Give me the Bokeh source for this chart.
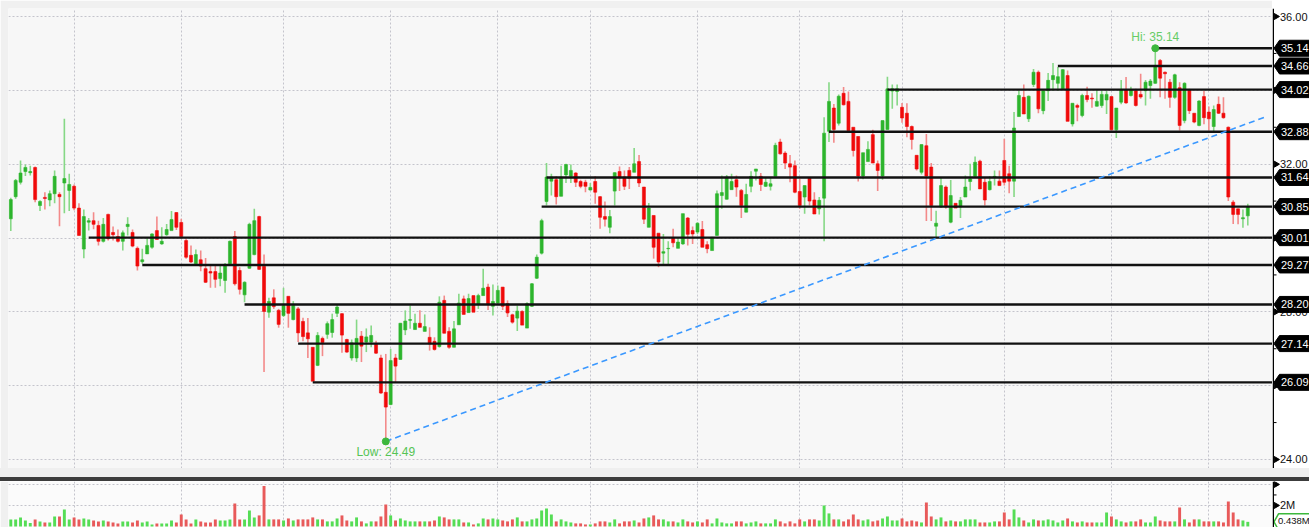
import math
from bokeh.plotting import figure
from bokeh.models import ColumnDataSource, Range1d, FixedTicker, Div, Span
from bokeh.layouts import column, row
from bokeh.embed import file_html
from bokeh.resources import INLINE
from bokeh.core.properties import value

# ---------------- data ----------------
opens = [
    30.52, 31.12, 31.51, 31.80, 31.77, 31.91, 30.88, 31.10, 31.03, 31.20,
    31.18, 31.49, 31.29, 31.40, 30.81, 29.70, 30.43, 30.47, 30.34, 29.91,
    30.64, 30.15, 30.04, 29.91, 30.31, 30.15, 29.72, 29.36, 29.57, 29.75,
    30.20, 29.84, 30.09, 30.20, 30.69, 30.42, 29.93, 29.53, 29.30,
    29.41, 29.17, 29.09, 29.09, 28.90, 28.85, 29.30, 30.04, 29.12, 28.46, 29.18,
    29.55, 30.58, 29.23, 27.99, 28.38, 28.04, 27.90, 28.42, 27.79, 28.08,
    27.74, 27.43, 27.04, 26.55, 27.28, 27.39, 27.44, 27.96, 27.95, 27.25,
    26.75, 26.75, 27.34, 27.18, 27.18, 27.12, 26.75, 25.82, 25.49, 26.75,
    26.71, 27.51,
    27.77, 27.52, 27.69, 27.47, 27.31, 27.20, 27.06, 28.31,
    27.47, 27.04, 27.65, 28.35, 27.98, 28.44, 28.20, 28.44, 28.67, 28.15,
    28.24, 28.67, 28.22, 27.92, 27.83, 28.01, 27.56, 28.15, 28.91, 29.59,
    30.99, 31.54, 31.58, 31.13, 31.71, 31.67, 31.76, 31.53, 31.51, 31.30, 31.53,
    31.12, 30.58, 30.29, 31.27, 31.80, 31.65, 31.83, 31.78, 32.07, 31.38,
    30.29, 30.61, 30.13, 29.59, 29.71, 29.99, 29.72, 29.84, 30.54, 30.20,
    30.16, 30.23, 29.82, 29.66, 30.07, 31.15, 31.05, 31.31, 31.58, 31.29,
    30.70, 31.40, 31.81, 31.67, 31.40, 31.40, 31.67, 32.60, 32.30, 32.01,
    31.96, 31.26, 31.11,
    31.62, 31.03, 30.79, 31.08, 32.89, 33.52, 33.11, 33.92, 33.70, 33.00,
    32.75, 31.68, 32.07, 32.80, 32.01, 31.68, 32.94, 33.98, 33.97, 33.54,
    33.38, 33.02, 32.24, 31.78, 32.50, 31.92, 30.32, 30.84, 31.38, 30.43,
    30.94, 30.84, 31.11, 31.53, 31.67, 32.08, 31.51, 31.31, 31.65, 31.54,
    32.10, 31.74, 31.54,
    33.29, 33.81, 33.23, 34.16, 34.49, 33.45, 33.99, 34.29, 34.19, 34.04,
    34.40, 33.09, 33.59, 33.32, 33.86, 33.79, 33.57, 33.59, 33.74, 33.83,
    32.93, 33.68, 34.01, 33.86, 33.99, 33.89, 33.99, 34.13, 34.19, 34.81,
    34.49, 34.22, 33.81, 34.07, 33.18, 34.01, 33.38, 33.05, 33.83, 33.41,
    33.02, 33.62, 33.38, 33.00, 30.97, 30.79, 30.52, 30.60,
]
highs = [
    31.09, 31.60, 32.10, 31.99, 31.96, 31.94, 31.02, 31.24, 31.29, 31.83,
    31.24, 33.23, 31.74, 31.45, 30.94, 30.77, 30.54, 30.70, 30.47, 30.54,
    30.66, 30.31, 30.23, 30.20, 30.56, 30.23, 29.77, 29.71, 30.02, 30.13,
    30.58, 30.29, 30.38, 30.73, 30.70, 30.52, 29.98, 29.80, 29.69,
    29.66, 29.46, 29.24, 29.24, 29.26, 29.32, 29.93, 30.19, 29.21, 28.83, 30.41,
    30.79, 30.60, 29.55, 28.38, 28.61, 28.08, 28.65, 28.42, 28.29, 28.13,
    27.84, 27.83, 27.04, 27.45, 27.33, 27.74, 27.95, 28.20, 27.96, 27.27,
    27.25, 27.79, 27.48, 27.55, 27.63, 27.22, 26.84, 26.86, 27.00, 26.86,
    27.70, 28.04,
    28.17, 27.95, 28.04, 27.93, 27.58, 27.31, 28.42, 28.44,
    27.58, 27.75, 28.49, 28.44, 28.49, 28.44, 28.49, 29.17, 28.76, 28.74,
    28.71, 28.67, 28.31, 27.95, 28.17, 28.04, 28.26, 28.78, 29.55, 30.52,
    32.03, 31.74, 31.67, 31.96, 32.01, 31.99, 31.78, 31.58, 31.58, 31.49, 31.67,
    31.14, 30.99, 30.76, 31.78, 31.94, 31.83, 31.92, 32.44, 32.25, 31.38,
    30.95, 30.61, 30.13, 30.11, 29.91, 30.25, 30.02, 30.66, 30.57, 30.31,
    30.43, 30.46, 29.91, 30.02, 31.29, 31.69, 31.71, 31.74, 31.69, 31.33,
    31.47, 31.81, 31.87, 31.76, 31.65, 31.65, 32.58, 32.69, 32.35, 32.25,
    32.10, 31.60, 31.42,
    31.65, 31.24, 31.11, 33.27, 34.22, 33.63, 33.89, 34.09, 33.97, 33.00,
    32.75, 32.31, 32.62, 32.93, 32.10, 33.18, 34.37, 34.16, 34.16, 33.66,
    33.65, 33.05, 32.24, 32.53, 32.82, 32.03, 30.74, 31.65, 31.42, 31.57,
    30.94, 31.11, 31.69, 32.01, 32.21, 32.12, 31.65, 31.67, 31.83, 31.83,
    32.69, 31.96, 33.41,
    34.01, 34.16, 33.86, 34.58, 34.54, 34.01, 34.47, 34.74, 34.63, 34.58,
    34.54, 33.65, 33.64, 33.91, 34.10, 33.92, 34.01, 33.99, 33.99, 33.83,
    33.52, 34.28, 34.36, 34.10, 34.04, 34.45, 34.28, 34.31, 35.14, 34.85,
    34.51, 34.31, 34.45, 34.22, 34.22, 34.04, 33.38, 33.73, 33.99, 33.56,
    33.59, 33.83, 33.81, 33.02, 31.02, 30.79, 30.77, 30.93,
]
lows = [
    30.19, 31.06, 31.45, 31.68, 31.69, 30.97, 30.73, 30.77, 30.86, 30.94,
    30.32, 30.67, 30.73, 30.75, 30.07, 29.45, 30.20, 30.24, 29.80, 29.88,
    29.93, 29.93, 29.88, 29.66, 30.07, 29.75, 29.12, 29.30, 29.57, 29.71,
    29.96, 29.82, 30.06, 30.20, 30.22, 29.98, 29.44, 29.32, 29.26,
    29.10, 28.78, 28.65, 28.65, 28.69, 28.52, 29.28, 28.71, 28.47, 28.26, 29.17,
    29.53, 29.13, 26.37, 27.84, 28.08, 27.57, 27.86, 27.57, 27.77, 27.18,
    27.20, 26.75, 26.15, 26.53, 26.80, 27.27, 27.30, 27.86, 26.89, 26.89,
    26.68, 26.64, 26.64, 26.91, 27.04, 26.86, 25.78, 24.49, 25.47, 26.09,
    26.70, 27.37,
    27.54, 27.52, 27.58, 27.47, 26.95, 26.95, 27.03, 27.42,
    27.00, 27.04, 27.65, 27.93, 27.98, 27.99, 28.08, 28.44, 28.05, 27.90,
    28.22, 28.05, 27.86, 27.68, 27.48, 27.64, 27.56, 28.13, 28.89, 29.55,
    30.88, 31.15, 30.91, 31.13, 31.49, 31.49, 31.38, 31.35, 31.24, 31.29, 30.93,
    30.25, 30.31, 30.13, 30.88, 31.27, 31.30, 31.33, 31.78, 31.38, 30.38,
    30.29, 29.44, 29.21, 29.28, 29.28, 29.75, 29.72, 29.82, 29.80, 29.84,
    30.11, 29.75, 29.59, 29.66, 30.07, 30.79, 31.04, 31.31, 31.12, 30.54,
    30.70, 31.24, 31.56, 31.27, 31.38, 31.29, 31.67, 32.26, 31.87, 31.51,
    31.21, 30.79, 30.66,
    30.88, 30.65, 30.64, 29.91, 32.60, 32.58, 33.05, 33.59, 32.91, 32.21,
    31.53, 31.59, 32.07, 32.03, 31.27, 31.58, 32.94, 33.50, 33.59, 33.12,
    32.73, 32.40, 31.83, 31.72, 30.46, 30.46, 30.02, 30.82, 30.79, 30.40,
    30.81, 30.54, 31.11, 31.29, 31.63, 31.33, 30.88, 31.29, 31.42, 31.42,
    31.42, 31.21, 31.11,
    33.29, 33.36, 33.14, 34.09, 33.38, 33.35, 33.71, 33.99, 33.98, 34.04,
    33.16, 33.02, 33.16, 33.27, 33.68, 33.53, 33.56, 33.53, 33.36, 32.91,
    32.71, 33.62, 33.64, 33.83, 33.56, 33.77, 33.59, 33.77, 34.18, 33.81,
    33.77, 33.53, 33.77, 32.91, 33.11, 33.36, 33.11, 33.03, 33.08, 32.91,
    32.87, 33.36, 33.23, 31.00, 30.38, 30.37, 30.28, 30.34,
]
closes = [
    31.04, 31.56, 31.76, 31.91, 31.80, 31.04, 30.99, 31.07, 31.20, 31.67,
    31.12, 31.61, 31.45, 30.81, 30.07, 30.58, 30.47, 30.37, 29.91, 30.37,
    29.98, 30.09, 29.91, 30.14, 30.37, 29.78, 29.24, 29.41, 29.80, 30.11,
    29.96, 29.91, 30.23, 30.50, 30.29, 30.04, 29.48, 29.35, 29.55,
    29.24, 28.80, 29.05, 28.88, 29.05, 29.28, 29.91, 28.76, 28.61, 28.80, 30.37,
    30.47, 29.15, 28.01, 28.28, 28.14, 27.66, 28.17, 27.96, 28.17, 27.43,
    27.33, 27.27, 26.12, 27.36, 27.17, 27.68, 27.79, 28.13, 27.37, 26.91,
    27.16, 27.28, 27.07, 27.32, 27.36, 26.88, 25.80, 25.42, 26.68, 26.53,
    27.69, 27.75,
    27.79, 27.69, 27.58, 27.60, 27.13, 26.98, 28.26, 27.42,
    27.04, 27.54, 28.24, 27.93, 28.36, 27.99, 28.44, 28.64, 28.22, 28.28,
    28.58, 28.15, 27.97, 27.72, 28.02, 27.64, 28.22, 28.76, 29.48, 30.47,
    31.65, 31.65, 31.12, 31.65, 31.99, 31.83, 31.51, 31.40, 31.40, 31.37, 31.24,
    30.56, 30.51, 30.58, 31.77, 31.63, 31.40, 31.62, 32.01, 31.49, 30.51,
    30.81, 29.75, 29.35, 29.63, 29.72, 29.87, 29.89, 30.66, 30.10, 30.11,
    30.40, 29.75, 29.71, 30.02, 31.20, 31.23, 31.65, 31.53, 31.38, 30.88,
    31.18, 31.67, 31.87, 31.45, 31.51, 31.47, 32.51, 32.28, 32.03, 31.92,
    31.24, 30.88, 31.42,
    31.00, 30.65, 31.02, 32.84, 33.70, 32.94, 33.84, 33.61, 32.91, 32.37,
    31.68, 32.31, 32.40, 32.03, 31.83, 33.18, 34.04, 34.04, 34.04, 33.25,
    33.02, 32.67, 31.87, 32.53, 31.68, 30.88, 30.40, 31.42, 30.84, 31.15,
    30.81, 31.02, 31.38, 31.60, 32.05, 31.33, 31.03, 31.53, 31.67, 31.42,
    31.51, 31.54, 32.98,
    33.86, 33.36, 33.84, 34.49, 33.50, 33.99, 34.27, 34.40, 34.37, 34.56,
    33.16, 33.65, 33.54, 33.86, 33.75, 33.77, 33.70, 33.89, 33.89, 32.93,
    33.52, 34.01, 33.66, 34.01, 33.59, 33.82, 34.22, 34.25, 34.67, 34.33,
    34.45, 33.81, 34.42, 33.05, 34.19, 33.45, 33.14, 33.71, 33.26, 33.23,
    33.48, 33.38, 33.26, 31.11, 30.64, 30.64, 30.55, 30.85,
]
# volume in millions
volumes = [
    0.67, 0.67, 0.86, 0.57, 0.32, 0.67, 0.48, 0.38, 0.38, 0.95,
    0.95, 1.62, 0.67, 0.86, 0.67, 0.76, 0.67, 0.57, 0.48, 0.57,
    0.48, 0.38, 0.29, 0.48, 0.48, 0.38, 0.57, 0.38, 0.48, 0.19,
    0.29, 0.29, 0.29, 0.57, 0.38, 1.14, 0.67, 0.29, 0.67, 0.48,
    0.38, 0.38, 0.67, 0.57, 0.57, 0.67, 2.19, 0.67, 0.67, 1.52,
    0.86, 1.05, 3.84, 0.67, 0.67, 0.67, 0.57, 0.76, 0.57, 0.67,
    0.67, 0.67, 0.86, 0.67, 0.67, 0.48, 0.48, 0.76, 1.05, 0.57,
    0.48, 0.86, 0.48, 0.29, 0.48, 0.48, 0.95, 2.10, 1.05, 0.57,
    0.76, 0.57, 0.48, 0.48, 0.48, 0.48, 0.48, 0.57, 0.95, 0.86,
    0.67, 0.67, 0.67, 0.38, 0.38, 0.19, 0.29, 0.76, 0.67, 0.76,
    0.67, 0.57, 0.48, 0.67, 0.86, 0.48, 0.48, 0.67, 0.76, 1.52,
    1.71, 1.14, 0.48, 0.67, 0.48, 0.38, 0.29, 0.29, 0.19, 0.19,
    0.29, 0.48, 0.48, 0.38, 0.67, 0.29, 0.48, 0.48, 0.57, 0.38,
    0.76, 0.86, 1.05, 0.67,
    0.67, 0.48, 0.48, 0.38, 0.67, 0.48, 0.38, 0.48, 0.38, 0.67,
    0.29, 0.76, 0.38, 0.29, 0.29, 0.48, 0.48, 0.29, 0.38, 0.48,
    0.29, 0.29, 0.29, 0.67, 0.48, 0.29, 0.48, 0.29, 0.67, 0.48,
    0.67, 0.67, 0.57, 2.00, 1.24, 0.67, 0.67, 0.48, 0.67, 1.14,
    0.67, 0.57, 0.67, 0.48, 0.57, 0.76, 0.95, 0.57, 0.57, 0.76,
    0.48, 0.57, 0.48, 0.38, 2.29, 0.95, 0.67, 0.86, 0.48, 0.57,
    0.48, 0.48, 0.67, 0.67, 0.67, 0.38, 0.38, 0.38, 0.48, 0.48,
    1.33, 0.67, 1.62, 0.86, 0.57, 0.38, 0.67, 0.57, 0.57, 0.67,
    0.57, 0.38, 0.57, 0.76, 0.48, 0.38, 0.48, 0.38, 0.38, 0.38,
    0.38, 1.33, 0.95, 0.67, 0.48, 0.38, 0.48, 0.48, 0.67, 0.38,
    0.38, 0.95, 0.57, 0.48, 0.48, 0.48, 1.81, 0.67, 0.38, 0.67,
    0.67, 0.48, 0.48, 0.48, 0.48, 0.38, 2.38, 1.33, 0.67, 0.57,
    0.438,
]

# support / resistance levels and the candle where each begins
levels = [35.14, 34.66, 34.02, 32.88, 31.64, 30.85, 30.01, 29.27, 28.20, 27.14, 26.09]
level_start = [235, 215, 180, 168, 110, 109, 16, 27, 48, 59, 62]

# trend line from the low
trend_x = [77, 258]
trend_y = [24.49, 33.30]

hi_idx, hi_val = 235, 35.14
low_idx, low_val = 77, 24.49
last_volume_label = "0.438M"

month_breaks = [13, 35, 56, 78, 100, 119, 141, 162, 183, 204, 226, 246]
price_ticks = [24, 26, 28, 30, 32, 34, 36]
price_minor = [25, 27, 29, 31, 33, 35]
vol_ticks = [2, 4]
vol_minor = [3]
vol_tick_labels = ["2M", ""]

# ---------------- styling ----------------
n = min(len(opens), len(highs), len(lows), len(closes), len(volumes))
GREEN, RED = "#2db52d", "#f00a0a"
GREEN_W, RED_W = "#86d886", "#f38a8a"
VOL_G, VOL_R = "#55dd55", "#e85a5a"
GRID = "#c4c4cc"
EDGE = "#f0f0f0"
FONT = "Liberation Sans"
PAD = 8
MAIN_W, SIDE_W = 1272, 37
MAIN_H, SEP_H, VOL_H = 468, 13, 46

up = [closes[i] >= opens[i] for i in range(n)]
src = ColumnDataSource(dict(
    x=list(range(n)),
    top=[max(opens[i], closes[i]) for i in range(n)],
    bottom=[min(opens[i], closes[i]) for i in range(n)],
    h=highs[:n], l=lows[:n],
    body=[GREEN if u else RED for u in up],
    wick=[GREEN_W if u else RED_W for u in up],
    vol=volumes[:n],
    vcol=[VOL_G if u else VOL_R for u in up],
))

xr = Range1d(-0.47, 259.07)
yr = Range1d(23.756, 36.217)
vr = Range1d(-0.1, 4.28)


def bare(fig, bg, edge="white"):
    fig.background_fill_color = bg
    fig.border_fill_color = edge
    fig.outline_line_color = None
    return fig


def fig(w, h, x_range, y_range, **kw):
    return figure(width=w, height=h, x_range=x_range, y_range=y_range,
                  output_backend="svg", toolbar_location=None,
                  x_axis_location=None, y_axis_location=None,
                  min_border_left=kw.get("left", 0), min_border_top=kw.get("top", 0),
                  min_border_right=0, min_border_bottom=0, margin=0)


# ---------------- price panel ----------------
p = bare(fig(MAIN_W, MAIN_H, xr, yr, left=PAD, top=PAD), "#f7f7f7", EDGE)
p.xgrid.ticker = FixedTicker(ticks=month_breaks)
p.ygrid.ticker = FixedTicker(ticks=price_ticks)
for g in (p.xgrid, p.ygrid):
    g.grid_line_color = GRID
    g.grid_line_dash = "2 2"

p.segment(x0="x", y0="h", x1="x", y1="l", line_color="wick", line_width=1.6, source=src)
p.vbar(x="x", width=0.62, top="top", bottom="bottom", fill_color="body",
       line_color="body", line_width=0.6, source=src)

p.ray(x=level_start, y=levels, length=0, angle=0, line_color="#111111", line_width=2.4)
p.line(trend_x, trend_y, line_color="#3a98ff", line_width=1.6, line_dash="6 4")

p.scatter(x=[hi_idx, low_idx], y=[hi_val, low_val], size=7, color="#3cb83c")
p.text(x=[hi_idx], y=[hi_val], text=[f"Hi: {hi_val:.2f}"], text_align="center",
       text_baseline="bottom", y_offset=-4, text_color="#66cc66",
       text_font=value(FONT), text_font_size="12px")
p.text(x=[low_idx], y=[low_val], text=[f"Low: {low_val:.2f}"], text_align="center",
       text_baseline="top", y_offset=4, text_color="#55c455",
       text_font=value(FONT), text_font_size="12px")

# ---------------- price scale (right) ----------------
ps = bare(fig(SIDE_W, MAIN_H, Range1d(0, SIDE_W), yr, top=PAD), "white")
ps.grid.visible = False
ps.add_layout(Span(location=0.75, dimension="height", line_color="black", line_width=1.5))
ps.scatter(x=[3.5] * len(price_ticks), y=price_ticks, marker="triangle",
           angle=-math.pi / 2, size=6, color="black")
ps.segment(x0=[0.75] * len(price_minor), y0=price_minor, x1=[4] * len(price_minor),
           y1=price_minor, line_color="black", line_width=1)
shown = [t for t in price_ticks if all(abs(t - lv) > 0.15 for lv in levels)]
ps.text(x=[7.5] * len(shown), y=shown, text=[f"{t:.2f}" for t in shown],
        text_baseline="middle", text_align="left", text_color="#111111",
        text_font=value(FONT), text_font_size="11px")
half = 8.0 * (yr.end - yr.start) / (MAIN_H - PAD)
ps.patches(xs=[[1.5, 7, SIDE_W, SIDE_W, 7] for _ in levels],
           ys=[[lv, lv + half, lv + half, lv - half, lv - half] for lv in levels],
           fill_color="black", line_color="black")
ps.text(x=[8.5] * len(levels), y=levels, text=[f"{lv:.2f}" for lv in levels],
        text_baseline="middle", text_align="left", text_color="white",
        text_font=value(FONT), text_font_size="11px")

# ---------------- separator ----------------
sep = Div(width=MAIN_W + SIDE_W, height=SEP_H, margin=0, styles={
    "background": "linear-gradient(#efefef 0px, #efefef 9px, #3c3c3c 9px, #3c3c3c 13px)"})

# ---------------- volume panel ----------------
v = bare(fig(MAIN_W, VOL_H, xr, vr, left=PAD), "#fbfbfb", EDGE)
v.xgrid.ticker = FixedTicker(ticks=month_breaks)
v.ygrid.ticker = FixedTicker(ticks=vol_ticks)
for g in (v.xgrid, v.ygrid):
    g.grid_line_color = GRID
    g.grid_line_dash = "2 2"
v.vbar(x="x", width=0.6, top="vol", bottom=0, fill_color="vcol", line_color=None, source=src)

vs = bare(fig(SIDE_W, VOL_H, Range1d(0, SIDE_W), vr), "white")
vs.grid.visible = False
vs.add_layout(Span(location=0.75, dimension="height", line_color="black", line_width=1.5))
vs.scatter(x=[3.5] * len(vol_ticks), y=vol_ticks, marker="triangle",
           angle=-math.pi / 2, size=6, color="black")
vs.segment(x0=[0.75] * len(vol_minor), y0=vol_minor, x1=[4] * len(vol_minor),
           y1=vol_minor, line_color="black", line_width=1)
vs.text(x=[7.5] * len(vol_ticks), y=vol_ticks, text=vol_tick_labels,
        text_baseline="middle", text_align="left", text_color="#111111",
        text_font=value(FONT), text_font_size="11px")
vhalf = 8.0 * (vr.end - vr.start) / VOL_H
lastv = volumes[n - 1]
vs.patches(xs=[[1.5, 6, SIDE_W + 2, SIDE_W + 2, 6]],
           ys=[[lastv, lastv + vhalf, lastv + vhalf, lastv - vhalf, lastv - vhalf]],
           fill_color="white", line_color="#3cb83c", line_width=1.5)
vs.text(x=[5.5], y=[lastv], text=[last_volume_label], y_offset=-1,
        text_baseline="middle", text_align="left", text_color="#111111",
        text_font=value(FONT), text_font_size="9.5px")

layout = column(row(p, ps, spacing=0), sep, row(v, vs, spacing=0), spacing=0)
open("out.html", "w").write(file_html(layout, INLINE))
